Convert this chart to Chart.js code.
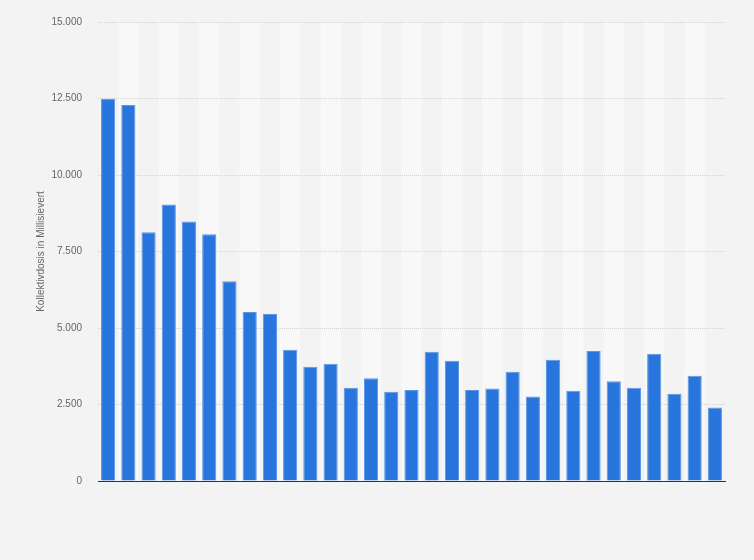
<!DOCTYPE html>
<html>
<head>
<meta charset="utf-8">
<script src="https://cdn.jsdelivr.net/npm/chart.js@4"></script>
<style>
  html, body { margin: 0; padding: 0; background: #f3f3f3; }
  #wrap { width: 754px; height: 560px; }
</style>
</head>
<body>
<div id="wrap"><canvas id="doseChart" width="754" height="560"></canvas></div>
<script>
// one bar per year, no axis labels shown in the original
const years = [];
for (let y = 1990; y <= 2020; y++) years.push(String(y));

const doseValues = [12490, 12290, 8130, 9040, 8480, 8060, 6530, 5520, 5460, 4290,
                    3730, 3830, 3050, 3360, 2920, 2970, 4220, 3930, 2970, 3020,
                    3570, 2760, 3960, 2950, 4250, 3260, 3050, 4160, 2850, 3440, 2400];

const yTicks = [0, 2500, 5000, 7500, 10000, 12500, 15000];

// alternating light column backgrounds, drawn under the grid
const stripes = {
    id: 'stripes',
    beforeDraw(chart) {
        const { ctx, chartArea, scales } = chart;
        const x = scales.x;
        ctx.save();
        ctx.fillStyle = '#f8f8f8';
        for (let i = 1; i < years.length; i += 2) {
            const left = x.getPixelForValue(i - 0.5);
            const right = x.getPixelForValue(i + 0.5);
            ctx.fillRect(left, chartArea.top, right - left, chartArea.bottom - chartArea.top);
        }
        ctx.restore();
    }
};

Chart.defaults.font.family = '"Liberation Sans", Arial, sans-serif';
Chart.defaults.color = '#666';

new Chart(document.getElementById('doseChart').getContext('2d'), {
    type: 'bar',
    data: {
        labels: years,
        datasets: [{
            data: doseValues,
            backgroundColor: '#2876dd',
            borderColor: '#5b96e4',
            borderWidth: 1,
            barPercentage: 0.7,
            categoryPercentage: 1
        }]
    },
    options: {
        responsive: false,
        animation: false,
        plugins: { legend: { display: false }, tooltip: { enabled: false } },
        layout: { padding: { left: 35, right: 29, top: 13, bottom: 79 } },
        scales: {
            x: {
                ticks: { display: false },
                grid: { display: false, drawTicks: false },
                border: { display: true, color: '#333', width: 1 }
            },
            y: {
                min: 0,
                max: 15000,
                afterFit(scale) { scale.width = 63; },
                afterBuildTicks(scale) { scale.ticks = yTicks.map(v => ({ value: v })); },
                ticks: {
                    padding: 16,
                    font: { size: 10 },
                    color: '#666',
                    callback: v => v.toLocaleString('de-DE')
                },
                grid: { color: '#d2d2d2', drawTicks: false, lineWidth: 1 },
                border: { display: false, dash: [1, 1] },
                title: {
                    display: true,
                    text: 'Kollektivdosis in Millisievert',
                    font: { size: 10 },
                    color: '#666',
                    padding: 0
                }
            }
        }
    },
    plugins: [stripes]
});
</script>
</body>
</html>
